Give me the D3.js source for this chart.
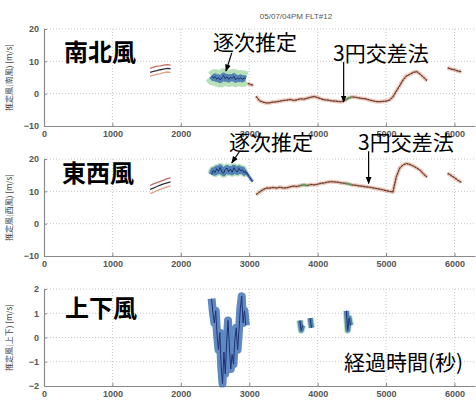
<!DOCTYPE html>
<html>
<head>
<meta charset="utf-8">
<script src="https://cdn.jsdelivr.net/npm/d3@7"></script>
<style>
body { margin: 0; background: #fff; }
svg { display: block; }
.jp { font-family: "Noto Sans CJK JP", sans-serif; fill: #000; }
.tick text { font-family: "Liberation Sans", Arial, sans-serif; font-size: 9px; font-weight: bold; fill: #555; }
</style>
</head>
<body>
<script>
// ---- data ----
var xTicks = [0, 1000, 2000, 3000, 4000, 5000, 6000];

// early segment, three traces
var earlyTime = [1550, 1600, 1650, 1700, 1750, 1800, 1850];
var nsEarlyMid = [6.6, 6.9, 7.1, 7.4, 7.6, 7.8, 7.7];
var nsEarlyUp  = [7.8, 8.2, 8.5, 8.6, 8.8, 9.0, 8.8];
var nsEarlyLo  = [5.4, 5.7, 6.0, 6.2, 6.5, 6.7, 6.6];
var ewEarlyMid = [10.6, 11.0, 11.5, 11.9, 12.3, 12.6, 12.9];
var ewEarlyUp  = [11.8, 12.3, 12.7, 13.1, 13.5, 13.9, 14.2];
var ewEarlyLo  = [9.3, 9.7, 10.2, 10.6, 11.0, 11.4, 11.7];

// sequential estimate (blue band)
var seqTime = [2450, 2475, 2500, 2525, 2550, 2575, 2600, 2625, 2650, 2675, 2700,
               2725, 2750, 2775, 2800, 2825, 2850, 2875, 2900, 2925, 2950];
var nsSeq = [5.5, 4.8, 5.3, 4.5, 5.0, 4.2, 4.9, 5.6, 4.6, 5.2, 4.4,
             5.1, 4.7, 5.4, 4.3, 4.9, 4.5, 5.0, 4.4, 4.8, 4.6];
var ewSeq = [15.2, 16.5, 15.8, 17.0, 16.2, 17.4, 16.0, 15.6, 16.8, 17.2, 16.1,
             16.9, 15.9, 17.3, 16.4, 16.0, 17.1, 16.3, 16.7, 15.8, 16.4];

var upTime = [2450, 2470, 2490, 2510, 2530, 2550, 2570, 2590, 2610, 2630, 2650, 2670, 2690,
              2710, 2730, 2750, 2770, 2790, 2810, 2830, 2850, 2870, 2890, 2910, 2930, 2950];
var upSeq = [1.6, 1.0, 0.6, 1.1, 0.1, -0.5, 0.2, -1.2, -1.9, -0.6, -1.5, -0.2, 0.7,
             -0.4, -1.3, -0.7, -1.1, -0.1, 0.4, -0.5, 0.3, 1.2, 1.7, 0.6, 1.1, 0.5];
var upBlobTime = [[3740, 3760, 3780], [3890, 3910], [4420, 4440, 4460, 4480]];
var upBlobVal  = [[0.7, 0.3, 0.5], [0.8, 0.4], [1.1, 0.3, 0.8, 0.5]];

// transition pieces
var nsGapTime = [2980, 3020, 3060];
var nsGapVal  = [3.2, 2.8, 2.6];
var ewGapTime = [2950, 3000, 3050];
var ewGapVal  = [16.0, 14.5, 13.0];

// three-circle crossing method (red line)
var crossTime = [3100, 3150, 3200, 3250, 3300, 3350, 3400, 3450, 3500, 3550, 3600, 3650,
                 3700, 3750, 3800, 3850, 3900, 3950, 4000, 4050, 4100, 4150, 4200, 4250,
                 4300, 4350, 4400, 4450, 4500, 4550, 4600, 4650, 4700, 4750, 4800, 4850,
                 4900, 4950, 5000, 5050, 5100, 5150, 5200, 5250, 5300, 5350, 5400, 5450,
                 5500, 5550, 5600];
var nsCross = [-0.8, -2.2, -2.6, -2.9, -2.8, -2.6, -2.5, -2.3, -2.1, -2.0, -1.8, -2.1,
               -1.9, -1.6, -1.7, -1.4, -1.1, -0.9, -1.2, -1.6, -1.9, -2.0, -2.2, -2.3,
               -2.4, -2.5, -2.0, -1.4, -1.0, -1.1, -1.3, -1.5, -1.6, -1.9, -2.2, -2.4,
               -2.5, -2.4, -2.3, -2.0, -1.0, 0.8, 2.5, 4.3, 5.5, 6.0, 6.6, 6.8,
               6.0, 5.0, 4.0];
var ewCross = [9.0, 9.8, 10.5, 11.0, 11.0, 11.2, 11.0, 11.3, 11.0, 11.1, 11.4, 11.6,
               11.5, 11.8, 12.0, 11.8, 12.1, 12.0, 12.2, 12.5, 12.6, 12.9, 13.0, 12.9,
               12.8, 12.6, 12.5, 12.3, 12.0, 11.9, 11.7, 11.6, 11.4, 11.3, 11.1, 10.9,
               10.7, 10.5, 10.2, 10.0, 9.8, 14.5, 17.2, 18.2, 18.6, 18.3, 17.8, 17.2,
               16.5, 15.3, 14.4];
var lateTime = [5900, 5950, 6000, 6050, 6100];
var nsLate = [8.0, 7.6, 7.4, 7.0, 6.8];
var ewLate = [15.6, 14.9, 14.2, 13.4, 12.8];

// green bits on the crossing line
var nsGreenTime = [4400, 4450, 4500];
var nsGreenVal  = [-2.0, -1.4, -1.0];
var ewGreenTime = [[3750, 3800, 3850], [4400, 4450, 4500]];
var ewGreenVal  = [[11.8, 12.0, 11.8], [12.5, 12.3, 12.0]];

// ---- drawing ----
var W = 476, H = 401;
var svg = d3.select('body').append('svg').attr('width', W).attr('height', H);

var x = d3.scaleLinear().domain([0, 6300]).range([44, 475]);

function pair(ts, vs) {
  return ts.map(function(t, i) { return [t, vs[i]]; });
}

var panels = [
  { top: 29, bottom: 126, dom: [-10, 20], yTicks: [-10, 0, 10, 20], label: '推定風(南風) [m/s]' },
  { top: 159, bottom: 256, dom: [-10, 20], yTicks: [-10, 0, 10, 20], label: '推定風(西風) [m/s]' },
  { top: 289, bottom: 386, dom: [-2, 2], yTicks: [-2, -1, 0, 1, 2], label: '推定風(上下) [m/s]' }
];

svg.append('defs').append('marker')
  .attr('id', 'arr')
  .attr('viewBox', '0 0 10 10')
  .attr('refX', 9).attr('refY', 5)
  .attr('markerWidth', 6).attr('markerHeight', 6)
  .attr('orient', 'auto-start-reverse')
  .append('path').attr('d', 'M0,1 L10,5 L0,9 z').attr('fill', '#000');

panels.forEach(function(p, k) {
  var y = d3.scaleLinear().domain(p.dom).range([p.bottom, p.top]);
  p.y = y;
  var g = svg.append('g');

  // dotted grid
  g.selectAll('.vg').data(xTicks.slice(1)).enter().append('line')
    .attr('x1', x).attr('x2', x).attr('y1', p.top).attr('y2', p.bottom)
    .attr('stroke', '#c8c8c8').attr('stroke-dasharray', '1,2');
  g.selectAll('.hg').data(p.yTicks.slice(1)).enter().append('line')
    .attr('x1', x(0)).attr('x2', x.range()[1]).attr('y1', y).attr('y2', y)
    .attr('stroke', '#c8c8c8').attr('stroke-dasharray', '1,2');

  var ax = g.append('g').attr('transform', 'translate(0,' + p.bottom + ')')
    .call(d3.axisBottom(x).tickValues(xTicks).tickFormat(d3.format('d')).tickSizeInner(-3).tickSizeOuter(0).tickPadding(5));
  var ay = g.append('g').attr('transform', 'translate(' + x(0) + ',0)')
    .call(d3.axisLeft(y).tickValues(p.yTicks).tickFormat(d3.format('d')).tickSizeInner(-3).tickSizeOuter(0).tickPadding(5));
  [ax, ay].forEach(function(a) {
    a.select('.domain').attr('stroke', '#8a8a8a').attr('stroke-width', 1.2);
    a.selectAll('.tick line').attr('stroke', '#8a8a8a');
  });

  g.append('text')
    .attr('class', 'jp')
    .attr('transform', 'translate(12,' + ((p.top + p.bottom) / 2) + ') rotate(-90)')
    .attr('text-anchor', 'middle')
    .attr('font-size', 8)
    .style('fill', '#444')
    .text(p.label);
});

function line(y) {
  return d3.line().x(function(d) { return x(d[0]); }).y(function(d) { return y(d[1]); });
}

function crossLine(p, pts) {
  var l = line(p.y);
  svg.append('path').datum(pts).attr('d', l).attr('fill', 'none')
    .attr('stroke', '#dc9a80').attr('stroke-width', 4).attr('stroke-opacity', 0.5)
    .attr('stroke-linejoin', 'round');
  svg.append('path').datum(pts).attr('d', l).attr('fill', 'none')
    .attr('stroke', '#b0604c').attr('stroke-width', 1.6).attr('stroke-dasharray', '2,1')
    .attr('stroke-opacity', 0.8);
  svg.append('path').datum(pts).attr('d', l).attr('fill', 'none')
    .attr('stroke', '#4a2c26').attr('stroke-width', 0.8);
}

function seqBand(p, pts, wGreen, wBlue) {
  var l = line(p.y);
  if (wGreen) {
    svg.append('path').datum(pts).attr('d', l).attr('fill', 'none')
      .attr('stroke', '#80c880').attr('stroke-width', wGreen).attr('stroke-opacity', 0.55)
      .attr('stroke-linejoin', 'round');
  }
  svg.append('path').datum(pts).attr('d', l).attr('fill', 'none')
    .attr('stroke', '#3a6cb2').attr('stroke-width', wBlue).attr('stroke-opacity', 0.8)
    .attr('stroke-linejoin', 'round');
  svg.append('path').datum(pts).attr('d', l).attr('fill', 'none')
    .attr('stroke', '#1d3278').attr('stroke-width', 1);
}

function triple(p, mid, up, lo) {
  var l = line(p.y);
  [[up, '#c46a62'], [lo, '#e2a084'], [mid, '#333']].forEach(function(s) {
    svg.append('path').datum(pair(earlyTime, s[0])).attr('d', l).attr('fill', 'none')
      .attr('stroke', s[1]).attr('stroke-width', 1.3);
  });
}

function greenBit(p, pts) {
  svg.append('path').datum(pts).attr('d', line(p.y)).attr('fill', 'none')
    .attr('stroke', '#5aac6a').attr('stroke-width', 2.5).attr('stroke-opacity', 0.7);
}

// panel 1: north-south
var P1 = panels[0], P2 = panels[1], P3 = panels[2];
triple(P1, nsEarlyMid, nsEarlyUp, nsEarlyLo);
seqBand(P1, pair(seqTime, nsSeq), 15, 6);
crossLine(P1, pair(nsGapTime, nsGapVal));
crossLine(P1, pair(crossTime, nsCross));
crossLine(P1, pair(lateTime, nsLate));
greenBit(P1, pair(nsGreenTime, nsGreenVal));

// panel 2: east-west
triple(P2, ewEarlyMid, ewEarlyUp, ewEarlyLo);
seqBand(P2, pair(seqTime, ewSeq), 9, 6);
seqBand(P2, pair(ewGapTime, ewGapVal), 0, 3);
crossLine(P2, pair(crossTime, ewCross));
crossLine(P2, pair(lateTime, ewLate));
ewGreenTime.forEach(function(t, i) { greenBit(P2, pair(t, ewGreenVal[i])); });

// panel 3: vertical
seqBand(P3, pair(upTime, upSeq), 0, 8);
upBlobTime.forEach(function(t, i) { seqBand(P3, pair(t, upBlobVal[i]), 7, 5); });

// ---- annotations ----
var arrows = [
  { p: P1, x1: 2745, y1: 12.6, x2: 2660, y2: 7.0 },
  { p: P1, x1: 4380, y1: 9.8, x2: 4380, y2: -2.6 },
  { p: P2, x1: 2860, y1: 22.4, x2: 2745, y2: 18.8 },
  { p: P2, x1: 4745, y1: 22.4, x2: 4745, y2: 12.4 }
];
arrows.forEach(function(a) {
  svg.append('line')
    .attr('x1', x(a.x1)).attr('y1', a.p.y(a.y1))
    .attr('x2', x(a.x2)).attr('y2', a.p.y(a.y2))
    .attr('stroke', '#000').attr('stroke-width', 1.2)
    .attr('marker-end', 'url(#arr)');
});

var labels = [
  { t: '南北風', x: 64, y: 61, s: 24, b: true },
  { t: '逐次推定', x: 213, y: 50, s: 21 },
  { t: '3円交差法', x: 333, y: 61, s: 21 },
  { t: '東西風', x: 62, y: 182, s: 24, b: true },
  { t: '逐次推定', x: 229, y: 150, s: 21 },
  { t: '3円交差法', x: 358, y: 150, s: 21 },
  { t: '上下風', x: 65, y: 317, s: 24, b: true },
  { t: '経過時間(秒)', x: 344, y: 370, s: 21 }
];
svg.selectAll('.lab').data(labels).enter().append('text')
  .attr('class', 'jp')
  .attr('x', function(d) { return d.x; })
  .attr('y', function(d) { return d.y; })
  .attr('font-size', function(d) { return d.s; })
  .attr('font-weight', function(d) { return d.b ? 'bold' : 'normal'; })
  .text(function(d) { return d.t; });

svg.append('text')
  .attr('x', 296).attr('y', 19)
  .attr('text-anchor', 'middle')
  .attr('font-family', 'Liberation Sans, Arial, sans-serif')
  .attr('font-size', 8).attr('fill', '#555')
  .text('05/07/04PM FLT#12');
</script>
</body>
</html>
